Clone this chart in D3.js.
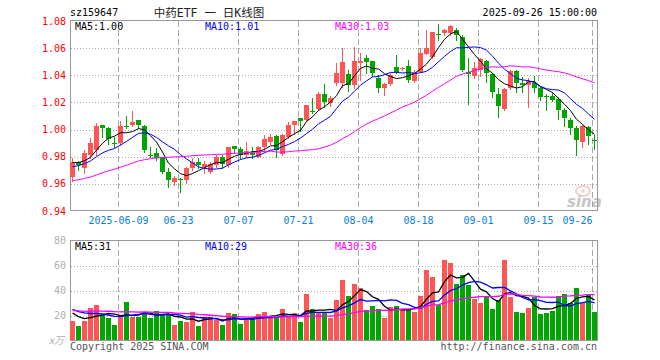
<!DOCTYPE html>
<html>
<head>
<meta charset="utf-8">
<script src="https://cdn.jsdelivr.net/npm/d3@7"></script>
<style>
body { margin: 0; background: #fff; }
svg text { font-family: "DejaVu Sans Mono", monospace; font-size: 10px; }
</style>
</head>
<body>
<svg id="chart" width="660" height="360"></svg>
<script>
// 交易日
const days = [
    '05-27','05-28','05-29','05-30','06-03','06-04','06-05','06-06',
    '06-09','06-10','06-11','06-12','06-13','06-16','06-17','06-18','06-19','06-20',
    '06-23','06-24','06-25','06-26','06-27','06-30','07-01','07-02','07-03','07-04',
    '07-07','07-08','07-09','07-10','07-11','07-14','07-15','07-16','07-17','07-18',
    '07-21','07-22','07-23','07-24','07-25','07-28','07-29','07-30','07-31','08-01',
    '08-04','08-05','08-06','08-07','08-08','08-11','08-12','08-13','08-14','08-15',
    '08-18','08-19','08-20','08-21','08-22','08-25','08-26','08-27','08-28','08-29',
    '09-01','09-02','09-03','09-04','09-05','09-08','09-09','09-10','09-11','09-12',
    '09-15','09-16','09-17','09-18','09-19','09-22','09-23','09-24','09-25','09-26'
];
const open = [
    0.9648,0.9762,0.9714,0.9812,0.9849,1.0032,1.0008,0.9900,0.9902,1.0027,
    1.0032,1.0069,1.0025,0.9815,0.9824,0.9787,0.9689,0.9611,0.9637,0.9628,
    0.9714,0.9763,0.9721,0.9690,0.9738,0.9799,0.9738,0.9878,0.9854,0.9812,
    0.9829,0.9800,0.9873,0.9910,0.9951,0.9819,0.9946,1.0032,1.0082,1.0069,
    1.0137,1.0155,1.0265,1.0194,1.0341,1.0341,1.0407,1.0329,1.0493,1.0530,
    1.0505,1.0383,1.0304,1.0334,1.0464,1.0446,1.0468,1.0358,1.0427,1.0554,
    1.0538,1.0705,1.0709,1.0709,1.0733,1.0684,1.0425,1.0398,1.0439,1.0505,
    1.0407,1.0260,1.0152,1.0304,1.0435,1.0341,1.0329,1.0346,1.0304,1.0251,
    1.0248,1.0224,1.0145,1.0071,1.0010,0.9905,1.0018,0.9922
];
const high = [
    0.9787,0.9768,0.9849,0.9935,1.0045,1.0036,1.0022,0.9946,1.0062,1.0098,
    1.0140,1.0072,1.0037,0.9873,0.9861,0.9799,0.9714,0.9657,0.9640,0.9726,
    0.9787,0.9787,0.9770,0.9762,0.9810,0.9810,0.9873,0.9880,0.9873,0.9910,
    0.9873,0.9880,0.9962,0.9970,0.9959,0.9970,1.0057,1.0066,1.0085,1.0182,
    1.0229,1.0278,1.0339,1.0250,1.0488,1.0598,1.0439,1.0611,1.0566,1.0549,
    1.0508,1.0402,1.0341,1.0415,1.0549,1.0464,1.0513,1.0439,1.0598,1.0733,
    1.0721,1.0775,1.0738,1.0770,1.0746,1.0696,1.0525,1.0500,1.0525,1.0513,
    1.0415,1.0309,1.0304,1.0439,1.0439,1.0390,1.0383,1.0398,1.0317,1.0260,
    1.0268,1.0243,1.0162,1.0084,1.0023,1.0035,1.0027,0.9961
];
const low = [
    0.9620,0.9700,0.9677,0.9787,0.9812,0.9946,0.9897,0.9873,0.9885,1.0008,
    1.0030,1.0008,0.9836,0.9799,0.9775,0.9677,0.9574,0.9590,0.9542,0.9603,
    0.9702,0.9714,0.9682,0.9682,0.9726,0.9714,0.9726,0.9824,0.9780,0.9800,
    0.9787,0.9795,0.9850,0.9895,0.9795,0.9812,0.9941,0.9966,0.9990,1.0064,
    1.0123,1.0143,1.0167,1.0177,1.0329,1.0317,1.0285,1.0304,1.0368,1.0415,
    1.0395,1.0275,1.0255,1.0326,1.0415,1.0439,1.0354,1.0353,1.0422,1.0554,
    1.0531,1.0660,1.0700,1.0696,1.0660,1.0431,1.0192,1.0383,1.0398,1.0354,
    1.0238,1.0089,1.0145,1.0297,1.0280,1.0280,1.0165,1.0280,1.0218,1.0145,
    1.0209,1.0079,1.0023,0.9966,0.9810,0.9868,0.9893,0.9858
];
const close = [
    0.9758,0.9737,0.9824,0.9898,1.0025,1.0012,0.9927,0.9895,1.0025,1.0022,
    1.0057,1.0037,0.9849,0.9810,0.9787,0.9689,0.9628,0.9640,0.9632,0.9714,
    0.9763,0.9738,0.9746,0.9746,0.9799,0.9750,0.9868,0.9854,0.9812,0.9843,
    0.9812,0.9873,0.9927,0.9946,0.9849,0.9959,1.0032,1.0064,1.0064,1.0179,
    1.0130,1.0265,1.0204,1.0235,1.0415,1.0501,1.0329,1.0505,1.0505,1.0501,
    1.0415,1.0304,1.0334,1.0402,1.0422,1.0451,1.0365,1.0427,1.0567,1.0604,
    1.0721,1.0700,1.0733,1.0765,1.0696,1.0439,1.0412,1.0451,1.0520,1.0415,
    1.0280,1.0177,1.0297,1.0435,1.0341,1.0329,1.0361,1.0304,1.0243,1.0241,
    1.0218,1.0145,1.0084,1.0010,0.9924,1.0027,0.9949,0.9914
];
// 成交量，万
const volume = [
    15.6,11.6,15.6,26,28.4,20.4,18,12.4,20.4,30.8,
    18.8,18.8,22.8,18,23.6,21.2,21.2,12.4,15.6,14.8,
    22.8,11.6,18.8,18.8,16.4,12.4,22,21.2,13.2,16.4,
    18,21.2,22.8,18.8,18.8,25.2,18.8,22,14.8,37.2,
    25.2,22,22,18,32.4,48.4,35.6,45.2,42,24.4,
    27.6,25.2,18,26.8,27.6,25.2,25.2,22.8,35.6,56.4,
    50.8,28.4,64.4,62,45.2,52.4,44.4,33.2,30,34.8,
    25.2,32.4,64.4,34.8,22.8,22,26,34.8,21.2,22,
    23.6,35.6,37.2,30,42,30,37.2,22.8
];
// 窗口之前29个交易日（只用于均线，估算自均线起点）
const histClose = [
    0.952,0.955,0.958,0.956,0.953,0.951,0.954,0.957,0.960,0.958,
    0.955,0.957,0.959,0.962,0.960,0.958,0.956,0.959,0.961,0.963,
    0.965,0.968,0.970,0.971,0.973,0.974,0.976,0.977,0.976
];
const histVolume = [
    22,25,21,24,26,20,23,27,22,24,25,21,23,26,24,22,25,23,24,23,
    30,26,31,27,26,26,24,22,22.4
];
const priceTicks = [0.94, 0.96, 0.98, 1.00, 1.02, 1.04, 1.06, 1.08];
const volumeTicks = [20, 40, 60, 80];
const tickDays = ['06-09','06-23','07-07','07-21','08-04','08-18','09-01','09-15','09-26'];
const tickLabels = ['2025-06-09','06-23','07-07','07-21','08-04','08-18','09-01','09-15','09-26'];
const maDays = [5, 10, 30];
const maColors = ['#000000', '#0000ff', '#ff00ff'];
const priceLegend = ['MA5:1.00', 'MA10:1.01', 'MA30:1.03'];
const volumeLegend = ['MA5:31', 'MA10:29', 'MA30:36'];

let upColor = '#ff5555';
let downColor = '#00a600';
let gridColor = '#aaaaaa';
let frameColor = '#999999';

let svg = d3.select('#chart');

let x = d3.scaleBand()
    .domain(days)
    .range([69.5, 597.5])
    .paddingInner(1/6)
    .paddingOuter(1/12);
let yK = d3.scaleLinear().domain([0.94, 1.08]).range([211, 21]);
let yV = d3.scaleLinear().domain([0, 80]).range([340.5, 240.5]);
let mid = function(d) { return x(d) + 2.5; };

// 均线
function movingAverage(hist, data, n) {
    let all = hist.concat(data);
    let off = hist.length;
    return data.map(function(v, i) {
        return d3.mean(all.slice(off + i - n + 1, off + i + 1));
    });
}

function drawPanel(top, bottom, yScale, ticks, labelColor, fmt) {
    // 水平虚线
    ticks.forEach(function(t) {
        let yy = Math.round(yScale(t)) + 0.5;
        if (yy > top + 2 && yy < bottom - 2) {
            svg.append('line')
                .attr('x1', 71).attr('x2', 597)
                .attr('y1', yy).attr('y2', yy)
                .attr('stroke', gridColor)
                .attr('stroke-dasharray', '1,2');
        }
        svg.append('text')
            .attr('x', 66).attr('y', yScale(t))
            .attr('dy', '0.35em')
            .attr('text-anchor', 'end')
            .attr('fill', labelColor)
            .text(fmt(t));
    });
    // 日期竖线
    tickDays.forEach(function(d) {
        svg.append('line')
            .attr('x1', x(d) + 0.5).attr('x2', x(d) + 0.5)
            .attr('y1', top + 1).attr('y2', bottom)
            .attr('stroke', gridColor)
            .attr('stroke-dasharray', '6,3');
    });
    svg.append('rect')
        .attr('x', 70.5).attr('y', top + 0.5)
        .attr('width', 527).attr('height', bottom - top)
        .attr('fill', 'none')
        .attr('stroke', frameColor);
}

drawPanel(20, 210, yK, priceTicks, '#ff0000', d3.format('.2f'));
drawPanel(240, 340, yV, volumeTicks, '#b0b0b0', d3.format('d'));

// K线
let candles = svg.append('g');
days.forEach(function(d, i) {
    let up = close[i] >= open[i];
    let color = up ? upColor : downColor;
    candles.append('line')
        .attr('x1', mid(d)).attr('x2', mid(d))
        .attr('y1', Math.round(yK(high[i]))).attr('y2', Math.round(yK(low[i])) + 1)
        .attr('stroke', color);
    let yTop = Math.round(yK(Math.max(open[i], close[i])));
    let yBot = Math.round(yK(Math.min(open[i], close[i])));
    candles.append('rect')
        .attr('x', x(d)).attr('y', yTop)
        .attr('width', x.bandwidth())
        .attr('height', Math.max(1, yBot - yTop))
        .attr('fill', color);
});

// 成交量柱
let bars = svg.append('g');
days.forEach(function(d, i) {
    let up = close[i] >= open[i];
    let yy = Math.round(yV(volume[i]));
    bars.append('rect')
        .attr('x', x(d)).attr('y', yy)
        .attr('width', x.bandwidth())
        .attr('height', 340 - yy)
        .attr('fill', up ? upColor : downColor);
});

let lineK = d3.line()
    .x(function(d, i) { return mid(days[i]); })
    .y(function(d) { return yK(d); });
let lineV = d3.line()
    .x(function(d, i) { return mid(days[i]); })
    .y(function(d) { return yV(d); });

maDays.forEach(function(n, k) {
    svg.append('path')
        .attr('d', lineK(movingAverage(histClose, close, n)))
        .attr('fill', 'none')
        .attr('stroke', maColors[k])
        .attr('stroke-width', 1);
    svg.append('path')
        .attr('d', lineV(movingAverage(histVolume, volume, n)))
        .attr('fill', 'none')
        .attr('stroke', maColors[k])
        .attr('stroke-width', 1.3);
});

// 图例
let legendX = [75, 205, 335];
priceLegend.forEach(function(t, k) {
    svg.append('text').attr('x', legendX[k]).attr('y', 30).attr('fill', maColors[k]).text(t);
});
volumeLegend.forEach(function(t, k) {
    svg.append('text').attr('x', legendX[k]).attr('y', 250).attr('fill', maColors[k]).text(t);
});

// 横坐标
tickDays.forEach(function(d, k) {
    let last = k === tickDays.length - 1;
    svg.append('text')
        .attr('x', x(d) + 0.5)
        .attr('y', 224)
        .attr('text-anchor', last ? 'end' : 'middle')
        .attr('fill', '#0a7fd6')
        .text(tickLabels[k]);
});

// 标题
svg.append('text').attr('x', 70).attr('y', 16).attr('fill', '#000').text('sz159647');
svg.append('text').attr('x', 209).attr('y', 17)
    .attr('text-anchor', 'middle')
    .attr('fill', '#222')
    .style('font-family', '"DejaVu Sans Mono", "Noto Sans CJK SC", monospace')
    .style('font-size', '11.5px')
    .text('中药ETF 一 日K线图');
svg.append('text').attr('x', 597).attr('y', 16).attr('text-anchor', 'end').attr('fill', '#000').text('2025-09-26 15:00:00');

svg.append('text').attr('x', 49).attr('y', 344).attr('fill', '#b0b0b0')
    .style('font-style', 'italic')
    .style('font-family', '"Noto Sans CJK SC", sans-serif')
    .text('x万');
svg.append('text').attr('x', 70).attr('y', 350).attr('fill', '#555').text('Copyright 2025 SINA.COM');
svg.append('text').attr('x', 597).attr('y', 350).attr('text-anchor', 'end').attr('fill', '#555').text('http://finance.sina.com.cn');

// 水印
let logo = svg.append('g').attr('opacity', 0.55);
logo.append('ellipse').attr('cx', 583).attr('cy', 191).attr('rx', 7).attr('ry', 5)
    .attr('fill', 'none').attr('stroke', '#f3a0a0').attr('stroke-width', 2);
logo.append('circle').attr('cx', 583).attr('cy', 191).attr('r', 1.8).attr('fill', '#f3a0a0');
logo.append('text').attr('x', 567).attr('y', 207)
    .style('font-family', '"DejaVu Sans", sans-serif')
    .style('font-size', '15px')
    .style('font-weight', 'bold')
    .style('font-style', 'italic')
    .attr('fill', '#999')
    .text('sina');
</script>
</body>
</html>
